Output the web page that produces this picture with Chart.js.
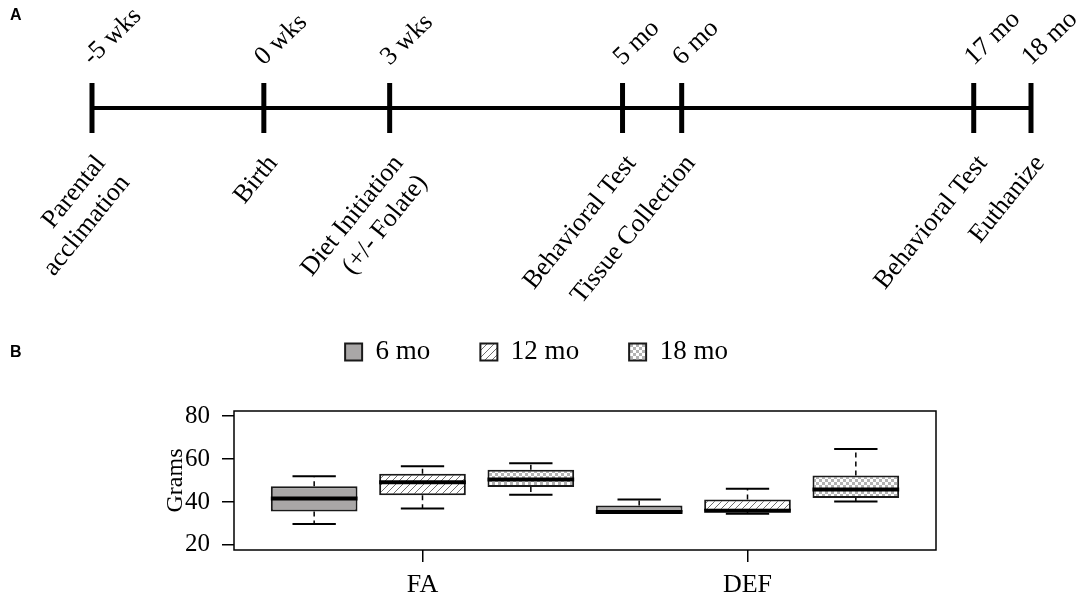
<!DOCTYPE html>
<html lang="en">
<head>
  <meta charset="UTF-8">
  <title>Timeline and body weight</title>
  <script src="https://cdn.jsdelivr.net/npm/chart.js"></script>
  <style>
    body { margin: 0; background: #fff; }
    #wrap { position: relative; width: 1084px; height: 600px; overflow: hidden; background: #fff; }
    canvas { position: absolute; left: 0; }
    .letra {
      position: absolute;
      font-family: 'Liberation Sans', Arial, sans-serif;
      font-weight: bold;
      font-size: 16px;
      line-height: 16px;
      color: #000;
      z-index: 2;
    }
  </style>
</head>
<body>
  <div id="wrap">
    <canvas id="timeline" width="1084" height="320" style="top:0"></canvas>
    <canvas id="boxes" width="1084" height="280" style="top:320px"></canvas>
    <div class="letra" style="left:10px; top:7px">A</div>
    <div class="letra" style="left:10px; top:344px">B</div>
  </div>

  <script>
    // ---- panel A : timeline (schematic positions, 0-100 along the bar)
    const tlPos = [0, 18.3, 31.7, 56.5, 62.8, 93.9, 100];
    const tlTop = ['-5 wks', '0 wks', '3 wks', '5 mo', '6 mo', '17 mo', '18 mo'];
    const tlBottom = [
      ['Parental', 'acclimation'],
      ['Birth'],
      ['Diet Initiation', '(+/- Folate)'],
      ['Behavioral Test'],
      ['Tissue Collection'],
      ['Behavioral Test'],
      ['Euthanize']
    ];

    // ---- panel B : box plots (rows = age, columns = diet group)
    const groups = ['FA', 'DEF'];
    const ages = ['6 mo', '12 mo', '18 mo'];
    const minVals = [[29.7, 35.1], [36.9, 34.5], [43.3, 40.2]];
    const q1Vals  = [[35.6, 35.1], [43.1, 35.9], [47.0, 41.9]];
    const medVals = [[41.6, 35.3], [49.2, 35.9], [50.5, 45.8]];
    const q3Vals  = [[47.3, 38.3], [53.1, 41.1], [55.0, 52.3]];
    const maxVals = [[52.0, 41.1], [56.6, 46.1], [58.1, 64.7]];
    const yTicks = [20, 40, 60, 80];

    const serif = "'Liberation Serif', 'Times New Roman', serif";
    Chart.defaults.font.family = serif;
    Chart.defaults.color = '#000';

    // etiquetas del timeline
    const timelineLabels = {
      id: 'timelineLabels',
      afterDatasetsDraw(chart) {
        const { ctx, scales: { x, y } } = chart;
        const py = y.getPixelForValue(0);
        ctx.save();
        ctx.fillStyle = '#000';
        ctx.font = '26px ' + serif;
        tlPos.forEach((p, i) => {
          const px = x.getPixelForValue(p);
          ctx.save();
          ctx.translate(px, py - 42);
          ctx.rotate(-44 * Math.PI / 180);
          ctx.textAlign = 'left';
          ctx.textBaseline = 'alphabetic';
          ctx.fillText(tlTop[i], 0, 0);
          ctx.restore();

          ctx.save();
          ctx.translate(px + 9, py + 51);
          ctx.rotate(-51 * Math.PI / 180);
          ctx.textAlign = 'right';
          ctx.textBaseline = 'middle';
          tlBottom[i].forEach((line, j) => ctx.fillText(line, 0, j * 31));
          ctx.restore();
        });
        ctx.restore();
      }
    };

    new Chart(document.getElementById('timeline'), {
      type: 'scatter',
      data: {
        datasets: [{
          data: tlPos.map(p => ({ x: p, y: 0 })),
          showLine: true,
          borderColor: '#000',
          borderWidth: 4,
          borderCapStyle: 'butt',
          pointStyle: 'line',
          pointRotation: 90,
          pointRadius: 25,
          pointBorderWidth: 5,
          pointBorderColor: '#000',
          clip: false
        }]
      },
      options: {
        responsive: false,
        animation: false,
        events: [],
        layout: { padding: { left: 92, right: 53, top: 58, bottom: 162 } },
        scales: {
          x: { type: 'linear', display: false, min: 0, max: 100 },
          y: { display: false, min: -1, max: 1 }
        },
        plugins: { legend: { display: false }, tooltip: { enabled: false } }
      },
      plugins: [timelineLabels]
    });

    // rellenos (gris, rayado, cuadriculado)
    function patron(dibujar, size) {
      const c = document.createElement('canvas');
      c.width = size; c.height = size;
      const g = c.getContext('2d');
      g.fillStyle = '#fff';
      g.fillRect(0, 0, size, size);
      dibujar(g, size);
      return document.getElementById('boxes').getContext('2d').createPattern(c, 'repeat');
    }
    const rayado = patron((g, s) => {
      g.strokeStyle = '#6e6e6e';
      g.lineWidth = 1;
      g.beginPath();
      g.moveTo(-1, s + 1); g.lineTo(s + 1, -1);
      g.moveTo(-1, 1); g.lineTo(1, -1);
      g.moveTo(s - 1, s + 1); g.lineTo(s + 1, s - 1);
      g.stroke();
    }, 7);
    const cuadros = patron((g, s) => {
      g.fillStyle = '#b3b3b3';
      g.fillRect(0, 0, s / 2, s / 2);
      g.fillRect(s / 2, s / 2, s / 2, s / 2);
    }, 6);
    const rellenos = ['#a9a7a7', rayado, cuadros];

    const groupPos = [2, 5];
    const offsets = [-1, 0, 1];

    const boxExtras = {
      id: 'boxExtras',
      afterDatasetsDraw(chart) {
        const { ctx, chartArea, scales: { y } } = chart;
        ctx.save();
        ctx.strokeStyle = '#000';
        ages.forEach((a, s) => {
          chart.getDatasetMeta(s).data.forEach((bar, k) => {
            const cx = bar.x;
            const hw = bar.width / 2;
            const capW = hw * 0.5;
            const yLo = y.getPixelForValue(minVals[s][k]);
            const yQ1 = y.getPixelForValue(q1Vals[s][k]);
            const yMed = y.getPixelForValue(medVals[s][k]);
            const yQ3 = y.getPixelForValue(q3Vals[s][k]);
            const yHi = y.getPixelForValue(maxVals[s][k]);
            // bigotes punteados
            ctx.lineWidth = 1.5;
            ctx.setLineDash([5, 4]);
            ctx.beginPath();
            ctx.moveTo(cx, yQ3); ctx.lineTo(cx, yHi);
            ctx.moveTo(cx, yQ1); ctx.lineTo(cx, yLo);
            ctx.stroke();
            // topes
            ctx.setLineDash([]);
            ctx.lineWidth = 2;
            ctx.beginPath();
            ctx.moveTo(cx - capW, yHi); ctx.lineTo(cx + capW, yHi);
            ctx.moveTo(cx - capW, yLo); ctx.lineTo(cx + capW, yLo);
            ctx.stroke();
            // mediana
            ctx.lineWidth = 4;
            ctx.beginPath();
            ctx.moveTo(cx - hw, yMed); ctx.lineTo(cx + hw, yMed);
            ctx.stroke();
          });
        });
        // marco
        ctx.lineWidth = 1.5;
        ctx.strokeRect(chartArea.left, chartArea.top, chartArea.right - chartArea.left, chartArea.bottom - chartArea.top);
        ctx.restore();
      }
    };

    new Chart(document.getElementById('boxes'), {
      type: 'bar',
      data: {
        datasets: ages.map((a, s) => ({
          label: a,
          data: groups.map((g, k) => ({ x: groupPos[k] + offsets[s], y: [q1Vals[s][k], q3Vals[s][k]] })),
          backgroundColor: rellenos[s],
          borderColor: '#1a1a1a',
          borderWidth: 2,
          borderSkipped: false,
          grouped: false,
          barPercentage: 1,
          categoryPercentage: 0.8
        }))
      },
      options: {
        responsive: false,
        animation: false,
        events: [],
        layout: { padding: { left: 137, right: 148, top: -31.5, bottom: 0 } },
        scales: {
          x: {
            type: 'linear',
            min: 0.26,
            max: 6.74,
            offset: false,
            afterBuildTicks: s => { s.ticks = groupPos.map(v => ({ value: v })); },
            afterFit: s => { s.height = 50; },
            ticks: {
              autoSkip: false,
              maxRotation: 0,
              padding: 8,
              font: { size: 26 },
              callback: (v, i) => groups[i]
            },
            grid: { offset: false, drawOnChartArea: false, drawTicks: true, tickLength: 12, color: '#000', lineWidth: 1.5 },
            border: { display: false }
          },
          y: {
            min: 17.6,
            max: 82.4,
            afterBuildTicks: s => { s.ticks = yTicks.map(v => ({ value: v })); },
            afterFit: s => { s.width = 97; },
            ticks: { padding: 12, font: { size: 25 } },
            grid: { drawOnChartArea: false, drawTicks: true, tickLength: 12, color: '#000', lineWidth: 1.5 },
            border: { display: false },
            title: { display: true, text: 'Grams', font: { size: 24 }, padding: { top: 24, bottom: 0 } }
          }
        },
        plugins: {
          legend: {
            position: 'top',
            labels: { boxWidth: 17, boxHeight: 17, padding: 50, font: { size: 27 }, color: '#000' }
          },
          subtitle: {
            display: true,
            text: '',
            weight: 500,
            font: { size: 10, lineHeight: 1 },
            padding: { top: 0, bottom: 25.5 }
          },
          tooltip: { enabled: false }
        }
      },
      plugins: [boxExtras]
    });
  </script>
</body>
</html>
